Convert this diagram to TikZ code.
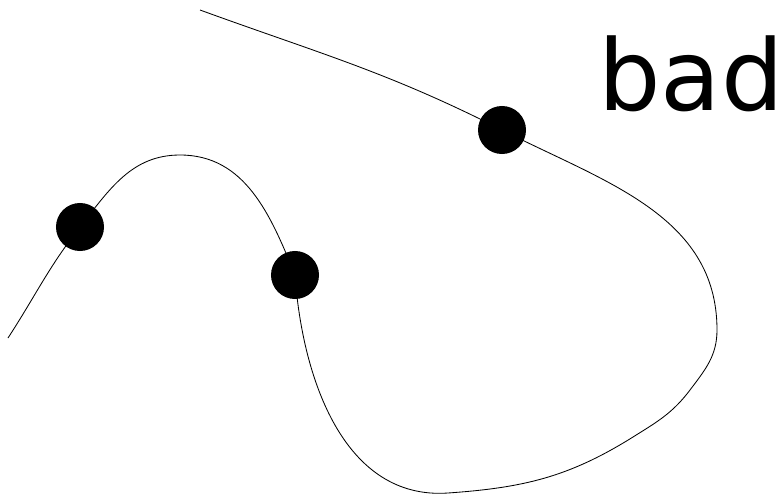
\documentclass[tikz,border=0pt]{standalone}
\usepackage{fontspec}
\setmainfont{DejaVu Sans}
\usetikzlibrary{positioning, calc}

\begin{document}
\begin{tikzpicture}[
		x=0.025cm, y=0.025cm,
		curve/.style={draw=black, line width=0.6pt},
		dot/.style={circle, fill=black, inner sep=0pt, minimum size=1.2cm},
		label/.style={font=\fontsize{70}{84}\selectfont, inner sep=0pt, anchor=base west}
		]
		
		% --- frame of the picture ---
		\useasboundingbox (0, 0) rectangle (782, 496);
		
		% --- points the curve runs through ---
		\coordinate (start) at (8, 158);
		\coordinate (c1) at (80, 269);
		\coordinate (peak) at (180, 341);
		\coordinate (c2) at (295, 221);
		\coordinate (bottom) at (448, 3);
		\coordinate (low1) at (633, 59);
		\coordinate (low2) at (690, 106);
		\coordinate (right) at (717, 166);
		\coordinate (c3) at (502, 366);
		\coordinate (end) at (200, 486);
		
		% The curve itself
		\draw[curve] (start) to[out=57, in=232] (c1)
		to[out=52, in=180] (peak)
		to[out=0, in=112] (c2)
		to[out=-86, in=184] (bottom)
		to[out=4, in=212] (low1)
		to[out=32, in=233] (low2)
		to[out=53, in=-90] (right)
		to[out=90, in=-27] (c3)
		to[out=153, in=-20] (end);
		
		% --- the dots on the curve ---
		\node[dot] (p1) at (c1) {};
		\node[dot] (p2) at (c2) {};
		\node[dot] (p3) at (c3) {};
		
		% Label
		\node[label] (word) at (598, 386) {bad};
		
	\end{tikzpicture}
\end{document}
